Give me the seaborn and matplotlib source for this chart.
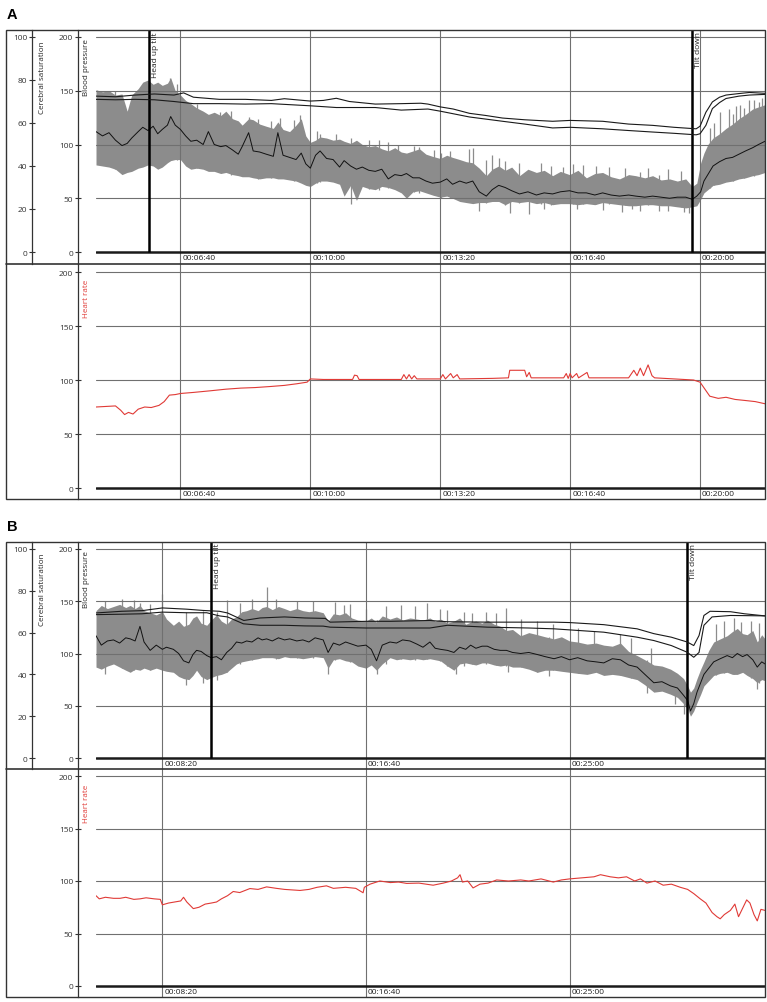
import matplotlib
matplotlib.use("Agg")
import matplotlib.pyplot as plt
from matplotlib.lines import Line2D
from matplotlib.patches import Rectangle
import seaborn as sns

sns.set_theme(style="white")
plt.rcParams["font.family"] = ["Open Sans", "DejaVu Sans"]

W, H = 767, 1003

# ---------------- Panel A (time in seconds) ----------------
A_t = [270, 280, 290, 300, 310, 318, 325, 335, 342, 350,
       358, 365, 372, 380, 385, 392, 400, 408, 416, 425,
       435, 443, 452, 462, 470, 480, 489, 495, 505, 512,
       522, 532, 543, 550, 558, 568, 578, 586, 593, 600,
       608, 615, 625, 635, 645, 652, 662, 671, 680, 690,
       700, 710, 720, 730, 740, 748, 758, 768, 778, 788,
       800, 810, 819, 830, 840, 850, 860, 871, 880, 890,
       900, 910, 922, 935, 948, 960, 973, 985, 999, 1012,
       1025, 1038, 1050, 1063, 1076, 1090, 1101, 1115, 1127, 1140,
       1153, 1165, 1178, 1188, 1195, 1201, 1206, 1212, 1220, 1230,
       1240, 1250, 1260, 1270, 1281, 1290, 1300]
A_sys = [151, 149, 150, 146, 147, 131, 146, 152, 158, 160,
         156, 158, 155, 157, 162, 150, 146, 141, 138, 134,
         131, 128, 130, 127, 131, 124, 122, 118, 124, 123,
         119, 117, 115, 121, 114, 112, 118, 124, 108, 102,
         104, 107, 106, 104, 105, 103, 101, 104, 100, 98,
         99, 96, 94, 97, 93, 92, 94, 96, 91, 89,
         87, 90, 88, 86, 84, 83, 78, 71, 77, 80,
         76, 79, 71, 77, 74, 76, 71, 75, 72, 76,
         69, 73, 74, 70, 68, 72, 71, 69, 71, 67,
         68, 66, 68, 61, 64, 83, 92, 100, 106, 110,
         115, 119, 124, 128, 133, 135, 137]
A_dia = [81, 80, 79, 77, 72, 74, 75, 78, 79, 81,
         80, 77, 79, 83, 85, 86, 86, 80, 77, 78,
         77, 75, 75, 73, 74, 72, 71, 70, 70, 69,
         68, 69, 69, 68, 68, 67, 66, 64, 62, 61,
         64, 66, 66, 65, 63, 52, 62, 48, 61, 59,
         58, 61, 60, 58, 55, 50, 56, 57, 55, 53,
         51, 52, 50, 47, 46, 45, 46, 46, 47, 47,
         44, 47, 46, 47, 45, 46, 44, 45, 45, 44,
         45, 44, 46, 45, 44, 43, 43, 44, 44, 43,
         43, 42, 41, 42, 43, 49, 55, 58, 62, 63,
         65, 66, 68, 69, 71, 72, 74]
A_mean = [112, 108, 111, 104, 99, 101, 106, 112, 116, 113,
          117, 110, 114, 118, 126, 118, 114, 108, 103, 104,
          100, 112, 100, 98, 99, 95, 91, 98, 111, 94,
          93, 91, 89, 111, 90, 88, 86, 92, 82, 78,
          90, 94, 87, 86, 79, 85, 80, 77, 79, 76,
          75, 77, 68, 72, 71, 73, 69, 69, 66, 64,
          65, 68, 63, 66, 64, 66, 56, 52, 58, 62,
          60, 57, 54, 56, 53, 55, 54, 56, 57, 55,
          55, 53, 55, 53, 52, 53, 52, 51, 52, 51,
          50, 51, 51, 49, 52, 56, 66, 72, 80, 84,
          87, 88, 91, 94, 97, 100, 103]

# single-beat excursions
A_spike_t = [300, 384, 395, 425, 432, 461, 478, 505, 520, 540,
             553, 575, 584, 610, 615, 640, 663, 690, 706, 720,
             735, 760, 768, 790, 801, 815, 845, 850, 860, 870,
             880, 891, 900, 907, 922, 937, 955, 960, 970, 989,
             1005, 1010, 1020, 1040, 1050, 1060, 1080, 1085, 1095, 1107,
             1120, 1137, 1150, 1170, 1175, 1183, 1215, 1222, 1230, 1245,
             1250, 1255, 1262, 1268, 1275, 1283, 1290, 1296]
A_spike_hi = [150, 162, 156, 138, 127, 130, 131, 126, 124, 122,
              125, 123, 127, 113, 110, 110, 106, 104, 104, 102,
              100, 99, 98, 95, 92, 94, 96, 97, 56, 86,
              90, 87, 85, 70, 83, 72, 83, 55, 80, 79,
              82, 57, 81, 80, 55, 79, 53, 78, 53, 74,
              78, 72, 77, 75, 52, 50, 115, 120, 130, 133,
              128, 136, 137, 134, 141, 141, 140, 143]
A_spike_lo = [77, 90, 86, 78, 80, 78, 72, 72, 68, 69,
              70, 66, 68, 64, 65, 65, 45, 59, 58, 60,
              58, 56, 55, 53, 50, 50, 50, 48, 38, 46,
              47, 48, 44, 36, 46, 35, 45, 40, 44, 46,
              45, 40, 45, 45, 39, 45, 37, 44, 40, 38,
              44, 38, 38, 42, 37, 36, 60, 62, 70, 72,
              66, 74, 74, 69, 76, 71, 77, 74]

# cerebral saturation (%), two channels
A_sat1_t = [270, 300, 330, 360, 390, 405, 420, 460, 500, 540,
            560, 600, 620, 640, 660, 700, 740, 770, 781, 800,
            820, 845, 870, 896, 930, 973, 1000, 1050, 1090, 1127,
            1160, 1194, 1200, 1209, 1219, 1230, 1240, 1260, 1276, 1300]
A_sat1 = [72.5, 72.2, 73, 73.5, 73, 74, 72, 71, 71, 70.5,
          71.3, 70.2, 70.5, 71.5, 70, 68.8, 69, 69.2, 68.8, 67.5,
          66.5, 64.5, 63.5, 62.3, 61.5, 60.8, 61.2, 60.8, 59.5, 58.9,
          58, 57.3, 58.5, 65, 69.8, 72, 73, 73.7, 74.2, 73.8]
A_sat2_t = [270, 300, 330, 360, 390, 420, 460, 500, 540, 600,
            640, 700, 740, 781, 800, 845, 896, 930, 973, 1000,
            1050, 1090, 1127, 1160, 1194, 1200, 1209, 1219, 1230, 1240,
            1260, 1276, 1300]
A_sat2 = [71, 70.8, 71, 70.8, 70, 69, 69, 68.8, 69, 68,
          67.2, 67.2, 66, 66.5, 65.5, 62.8, 60.8, 59.5, 57.7, 58,
          57.3, 56.5, 55.8, 55.2, 54.5, 55, 58.9, 66.7, 69.5, 71.4,
          72.5, 73, 73.3]

A_hr_t = [270, 285, 300, 308, 314, 320, 327, 335, 345, 355,
          367, 375, 383, 392, 400, 420, 446, 470, 493, 515,
          539, 560, 579, 595, 600, 620, 665, 668, 672, 675,
          740, 744, 748, 752, 756, 760, 764, 800, 804, 808,
          816, 820, 826, 830, 880, 905, 907, 930, 933, 937,
          940, 990, 994, 997, 1000, 1003, 1010, 1013, 1026, 1029,
          1090, 1098, 1103, 1108, 1113, 1120, 1126, 1130, 1190, 1200,
          1215, 1228, 1240, 1254, 1270, 1285, 1300]
A_hr = [75, 75.5, 76, 72, 68, 70, 68.5, 73, 75, 74.5,
        76.5, 80, 86, 86.5, 87.5, 88.5, 90, 91.5, 92.5, 93,
        94, 95, 96.5, 98, 101, 100.5, 100.5, 104.5, 104, 100.5,
        100.5, 105, 101, 105, 101, 104, 101, 101, 105, 101,
        106, 102, 105, 101, 101.5, 102, 109, 109, 103, 107,
        102, 102, 106, 101.5, 106, 102, 106, 102, 107, 102,
        102, 109, 104, 111, 104, 114, 104, 102, 100, 98,
        85, 83, 84, 82, 81, 80, 78]

A_grid_t = [400, 600, 800, 1000, 1200]
A_grid_lab = ["00:06:40", "00:10:00", "00:13:20", "00:16:40", "00:20:00"]
A_events_t = [351, 1187]
A_events_lab = ["Head up tilt", "Tilt down"]

# ---------------- Panel B ----------------
B_t = [337, 350, 365, 380, 395, 410, 421, 433, 445, 455,
       470, 485, 500, 510, 527, 540, 552, 565, 575, 584,
       595, 609, 620, 633, 645, 658, 670, 682, 695, 707,
       720, 735, 745, 756, 770, 785, 800, 813, 830, 845,
       860, 875, 895, 907, 920, 935, 950, 965, 980, 1000,
       1013, 1026, 1040, 1059, 1075, 1090, 1108, 1125, 1140, 1157,
       1170, 1183, 1200, 1216, 1230, 1245, 1257, 1270, 1285, 1298,
       1315, 1330, 1345, 1360, 1380, 1400, 1421, 1440, 1462, 1480,
       1500, 1520, 1543, 1565, 1584, 1605, 1625, 1645, 1666, 1685,
       1707, 1727, 1748, 1765, 1780, 1790, 1797, 1805, 1813, 1822,
       1830, 1842, 1854, 1870, 1887, 1900, 1912, 1925, 1936, 1950,
       1961, 1972, 1980]
B_sys = [141, 146, 143, 145, 147, 144, 146, 143, 146, 141,
         139, 137, 140, 133, 127, 131, 126, 128, 134, 136,
         129, 127, 132, 137, 131, 128, 133, 135, 140, 141,
         143, 141, 144, 145, 142, 145, 143, 141, 143, 141,
         140, 141, 139, 131, 138, 137, 139, 134, 132, 131,
         134, 130, 136, 133, 135, 132, 134, 133, 132, 134,
         131, 133, 129, 131, 134, 128, 130, 131, 129, 132,
         128, 126, 122, 123, 117, 120, 118, 116, 114, 116,
         112, 111, 109, 110, 108, 107, 110, 102, 98, 94,
         89, 88, 85, 81, 76, 69, 63, 67, 76, 85,
         92, 103, 111, 114, 117, 121, 124, 119, 118, 122,
         111, 118, 114]
B_dia = [87, 85, 88, 90, 87, 84, 82, 85, 84, 86,
         84, 86, 84, 83, 82, 78, 76, 75, 79, 84,
         78, 75, 77, 79, 80, 82, 86, 90, 92, 93,
         94, 95, 96, 96, 96, 95, 97, 96, 96, 95,
         96, 97, 96, 86, 94, 95, 93, 92, 88, 86,
         89, 84, 90, 96, 94, 95, 94, 95, 94, 95,
         94, 93, 88, 84, 90, 91, 90, 89, 91, 91,
         89, 88, 89, 87, 87, 85, 82, 84, 84, 83,
         82, 81, 80, 82, 79, 80, 79, 77, 75, 70,
         63, 64, 61, 58, 52, 47, 40, 45, 53, 61,
         69, 74, 79, 81, 82, 80, 80, 82, 79, 76,
         72, 75, 74]
B_mean = [117, 108, 112, 113, 110, 115, 114, 112, 126, 111,
          103, 108, 104, 106, 104, 100, 93, 91, 99, 103,
          102, 98, 96, 97, 94, 101, 105, 111, 110, 112,
          111, 115, 113, 114, 112, 115, 113, 114, 112, 113,
          111, 115, 113, 101, 110, 108, 111, 109, 107, 108,
          104, 93, 108, 111, 110, 113, 112, 109, 106, 111,
          105, 104, 103, 101, 106, 104, 108, 105, 107, 107,
          104, 103, 103, 101, 100, 101, 99, 97, 95, 97,
          94, 96, 93, 92, 91, 95, 94, 89, 87, 80,
          72, 73, 69, 67, 60, 55, 45, 52, 63, 72,
          80, 86, 92, 95, 98, 96, 100, 97, 99, 94,
          87, 92, 90]

B_spike_t = [360, 400, 430, 445, 470, 500, 559, 600, 620, 633,
             658, 690, 720, 756, 780, 830, 870, 907, 925, 945,
             960, 1000, 1026, 1050, 1087, 1120, 1150, 1183, 1200, 1220,
             1240, 1260, 1294, 1320, 1343, 1350, 1380, 1420, 1450, 1460,
             1520, 1560, 1625, 1650, 1690, 1700, 1760, 1782, 1860, 1880,
             1905, 1920, 1945, 1960, 1965]
B_spike_hi = [150, 152, 151, 148, 147, 157, 140, 141, 145, 140,
              151, 148, 152, 164, 152, 150, 150, 130, 149, 146,
              147, 143, 132, 145, 146, 145, 148, 143, 142, 131,
              140, 139, 140, 139, 144, 122, 133, 131, 116, 128,
              124, 122, 119, 115, 94, 105, 81, 60, 128, 131,
              134, 130, 131, 111, 129]
B_spike_lo = [80, 86, 84, 88, 84, 86, 70, 72, 76, 75,
              82, 90, 94, 98, 95, 96, 96, 80, 94, 95,
              92, 86, 80, 90, 95, 94, 95, 93, 88, 80,
              88, 90, 90, 89, 88, 82, 87, 82, 78, 84,
              81, 82, 79, 77, 62, 70, 52, 42, 79, 81,
              80, 82, 77, 66, 72]

B_sat1_t = [337, 400, 450, 500, 560, 600, 640, 660, 700, 740,
            800, 850, 900, 912, 1000, 1060, 1157, 1200, 1300, 1462,
            1500, 1584, 1666, 1707, 1750, 1789, 1805, 1818, 1830, 1845,
            1895, 1930, 1980]
B_sat1 = [69.4, 70.2, 70.5, 71.8, 71.2, 70.6, 70.2, 69.4, 65.8, 67,
          67.5, 67, 66.8, 65, 65.4, 65.4, 65.8, 65.2, 65, 65,
          64.8, 63.8, 61.8, 59.5, 57.8, 55.5, 53.8, 58.6, 68.2, 70.2,
          70, 69, 68]
B_sat2_t = [337, 400, 450, 500, 560, 609, 640, 660, 699, 740,
            800, 850, 895, 912, 1000, 1100, 1157, 1200, 1298, 1400,
            1462, 1584, 1666, 1707, 1750, 1789, 1805, 1818, 1830, 1850,
            1895, 1980]
B_sat2 = [68.6, 68.8, 69, 69.8, 69.5, 69.5, 68, 67.5, 64.2, 63.5,
          63.5, 63.2, 63.1, 62.6, 62.2, 62.2, 62.2, 63.5, 62.6, 62.2,
          61.8, 60.2, 57.8, 56.2, 53.8, 50.6, 48.2, 50.5, 63.5, 67.5,
          68.2, 68]

B_hr_t = [337, 345, 360, 380, 396, 410, 430, 445, 460, 480,
          495, 500, 515, 530, 545, 552, 560, 576, 590, 605,
          620, 633, 645, 660, 674, 690, 715, 735, 756, 780,
          800, 838, 860, 880, 903, 920, 950, 975, 993, 996,
          1010, 1034, 1060, 1080, 1100, 1130, 1165, 1190, 1210, 1225,
          1231, 1237, 1250, 1263, 1280, 1300, 1321, 1350, 1380, 1400,
          1430, 1460, 1480, 1500, 1530, 1560, 1576, 1600, 1620, 1640,
          1660, 1674, 1690, 1710, 1730, 1750, 1772, 1790, 1805, 1821,
          1835, 1850, 1862, 1870, 1880, 1895, 1906, 1915, 1925, 1935,
          1943, 1953, 1961, 1970, 1980]
B_hr = [86, 83, 84.5, 83.5, 83.5, 84.5, 82.5, 83, 84, 83,
        82.5, 77.3, 79, 80, 81, 84.5, 80, 73.7, 75, 78,
        79, 80, 83, 86, 90, 89, 92.8, 92, 94.4, 93,
        92, 91, 92, 94, 95.4, 93, 94, 93, 88.8, 94,
        97, 100, 98.5, 99, 97.7, 98, 96, 98, 100, 103,
        106, 99, 100, 93.4, 97, 98, 101, 100, 101, 100,
        102, 99, 101, 102, 103, 104, 106, 104, 103, 104,
        100, 102, 98, 100, 96, 97, 94, 92, 88, 83,
        79, 70, 66, 64, 68, 72, 78, 66, 74, 82,
        79, 68, 62, 73, 72]

B_grid_t = [500, 1000, 1500]
B_grid_lab = ["00:08:20", "00:16:40", "00:25:00"]
B_events_t = [620, 1788]
B_events_lab = ["Head up tilt", "Tilt down"]

BAND = "#8c8c8c"
GRID = "#707070"
HR_RED = "#e03a36"
PLOT_L, PLOT_R = 96, 765


def make_axes(fig, top, bottom, y200, y0, xlim, grid_t, grid_lab):
    k = (y0 - y200) / 200.0
    ylim = (-(bottom - y0) / k, 200 + (y200 - top) / k)
    ax = fig.add_axes([PLOT_L / W, 1 - bottom / H, (PLOT_R - PLOT_L) / W, (bottom - top) / H])
    ax.set_xlim(xlim)
    ax.set_ylim(ylim)
    ax.patch.set_alpha(0)
    for s in ("top", "right", "bottom"):
        ax.spines[s].set_visible(False)
    ax.spines["left"].set_position(("axes", (78 - PLOT_L) / (PLOT_R - PLOT_L)))
    ax.spines["left"].set_color("#333333")
    ax.spines["left"].set_linewidth(0.9)
    ax.set_yticks([0, 50, 100, 150, 200])
    ax.tick_params(axis="y", left=True, direction="inout", length=5, width=0.8,
                   color="#333333", labelcolor="#333333", labelsize=6, pad=1)
    ax.set_xticks([])
    ax.grid(False)
    for v in (50, 100, 150, 200):
        ax.axhline(v, color=GRID, lw=0.8, zorder=4)
    ax.axhline(0, color="#1a1a1a", lw=1.8, zorder=5)
    px_per_s = (PLOT_R - PLOT_L) / (xlim[1] - xlim[0])
    for t, lab in zip(grid_t, grid_lab):
        ax.axvline(t, color=GRID, lw=0.8, zorder=4)
        ax.text(t + 2 / px_per_s, -6 / k, lab, ha="left", va="center",
                fontsize=6, color="#222222")
    return ax, k, ylim


def add_events(ax, k, ylim, ev_t, ev_lab, xlim):
    px_per_s = (PLOT_R - PLOT_L) / (xlim[1] - xlim[0])
    for t, lab in zip(ev_t, ev_lab):
        ax.vlines(t, 0, ylim[1], color="black", lw=1.8, zorder=7)
        ax.text(t + 3 / px_per_s, ylim[1] - 1 / k, lab, rotation=90, ha="left", va="top",
                fontsize=6, color="#222222", zorder=7, clip_on=True)


def pressure_panel(fig, top, bottom, y200, y0, xlim, grid_t, grid_lab,
                   t, sys_v, dia_v, mean_v, sp_t, sp_hi, sp_lo,
                   s1_t, s1, s2_t, s2, ev_t, ev_lab):
    ax, k, ylim = make_axes(fig, top, bottom, y200, y0, xlim, grid_t, grid_lab)
    ax.fill_between(t, dia_v, sys_v, color=BAND, lw=0, zorder=2)
    ax.vlines(sp_t, sp_lo, sp_hi, color=BAND, lw=0.9, zorder=2)
    sns.lineplot(x=t, y=mean_v, ax=ax, color="#111111", lw=0.7, estimator=None, zorder=6)
    add_events(ax, k, ylim, ev_t, ev_lab, xlim)
    ax.set_xlim(xlim)
    ax.set_ylim(ylim)
    ax.set_xlabel("")
    ax.set_ylabel("")

    # cerebral saturation axis (0-100) drawn further left
    ax2 = ax.twinx()
    sns.lineplot(x=s1_t, y=s1, ax=ax2, color="#1a1a1a", lw=0.8, estimator=None)
    sns.lineplot(x=s2_t, y=s2, ax=ax2, color="#1a1a1a", lw=0.8, estimator=None)
    ax2.set_xlim(xlim)
    ax2.set_ylim(ylim[0] / 2, ylim[1] / 2)
    ax2.yaxis.tick_left()
    for s in ("top", "right", "bottom"):
        ax2.spines[s].set_visible(False)
    ax2.spines["left"].set_visible(True)
    ax2.spines["left"].set_position(("axes", (32 - PLOT_L) / (PLOT_R - PLOT_L)))
    ax2.spines["left"].set_color("#333333")
    ax2.spines["left"].set_linewidth(0.9)
    ax2.set_yticks([0, 20, 40, 60, 80, 100])
    ax2.tick_params(axis="y", left=True, right=False, labelleft=True, labelright=False,
                    direction="inout", length=5, width=0.8, color="#333333",
                    labelcolor="#333333", labelsize=6, pad=1)
    ax2.set_xticks([])
    ax2.set_xlabel("")
    ax2.set_ylabel("")
    ax2.grid(False)
    return ax


def hr_panel(fig, top, bottom, y200, y0, xlim, grid_t, grid_lab, hr_t, hr):
    ax, k, ylim = make_axes(fig, top, bottom, y200, y0, xlim, grid_t, grid_lab)
    sns.lineplot(x=hr_t, y=hr, ax=ax, color=HR_RED, lw=0.8, estimator=None, zorder=6)
    ax.set_xlim(xlim)
    ax.set_ylim(ylim)
    ax.set_xlabel("")
    ax.set_ylabel("")
    return ax


fig = plt.figure(figsize=(W / 100, H / 100), dpi=100)

# panel A
pressure_panel(fig, 31, 265, 38, 253, (270, 1300), A_grid_t, A_grid_lab,
               A_t, A_sys, A_dia, A_mean, A_spike_t, A_spike_hi, A_spike_lo,
               A_sat1_t, A_sat1, A_sat2_t, A_sat2, A_events_t, A_events_lab)
hr_panel(fig, 265, 500, 273, 489, (270, 1300), A_grid_t, A_grid_lab, A_hr_t, A_hr)

# panel B
pressure_panel(fig, 543, 770, 550, 759, (337, 1980), B_grid_t, B_grid_lab,
               B_t, B_sys, B_dia, B_mean, B_spike_t, B_spike_hi, B_spike_lo,
               B_sat1_t, B_sat1, B_sat2_t, B_sat2, B_events_t, B_events_lab)
hr_panel(fig, 770, 998, 777, 987, (337, 1980), B_grid_t, B_grid_lab, B_hr_t, B_hr)

# frames, separators and labels
for top, mid, bottom, letter, lab_y in [(31, 265, 500, "A", 15), (543, 770, 998, "B", 527)]:
    fig.patches.append(Rectangle((6 / W, 1 - bottom / H), (765 - 6) / W, (bottom - top) / H,
                                 transform=fig.transFigure, fill=False,
                                 ec="#333333", lw=1.0))
    fig.lines.append(Line2D([6 / W, 765 / W], [1 - mid / H] * 2, transform=fig.transFigure,
                            color="#333333", lw=1.2))
    fig.text(7 / W, 1 - lab_y / H, letter, fontsize=10.5, fontweight="bold", color="black",
             ha="left", va="center", family=["Liberation Sans", "DejaVu Sans"])
    fig.text(42 / W, 1 - (top + 11) / H, "Cerebral saturation", rotation=90,
             ha="center", va="top", fontsize=5.8, color="#222222")
    fig.text(86 / W, 1 - (top + 8) / H, "Blood pressure", rotation=90,
             ha="center", va="top", fontsize=5.8, color="#222222")
    fig.text(86 / W, 1 - (mid + 15) / H, "Heart rate", rotation=90,
             ha="center", va="top", fontsize=5.8, color=HR_RED)

fig.savefig("out.png", dpi=100)
